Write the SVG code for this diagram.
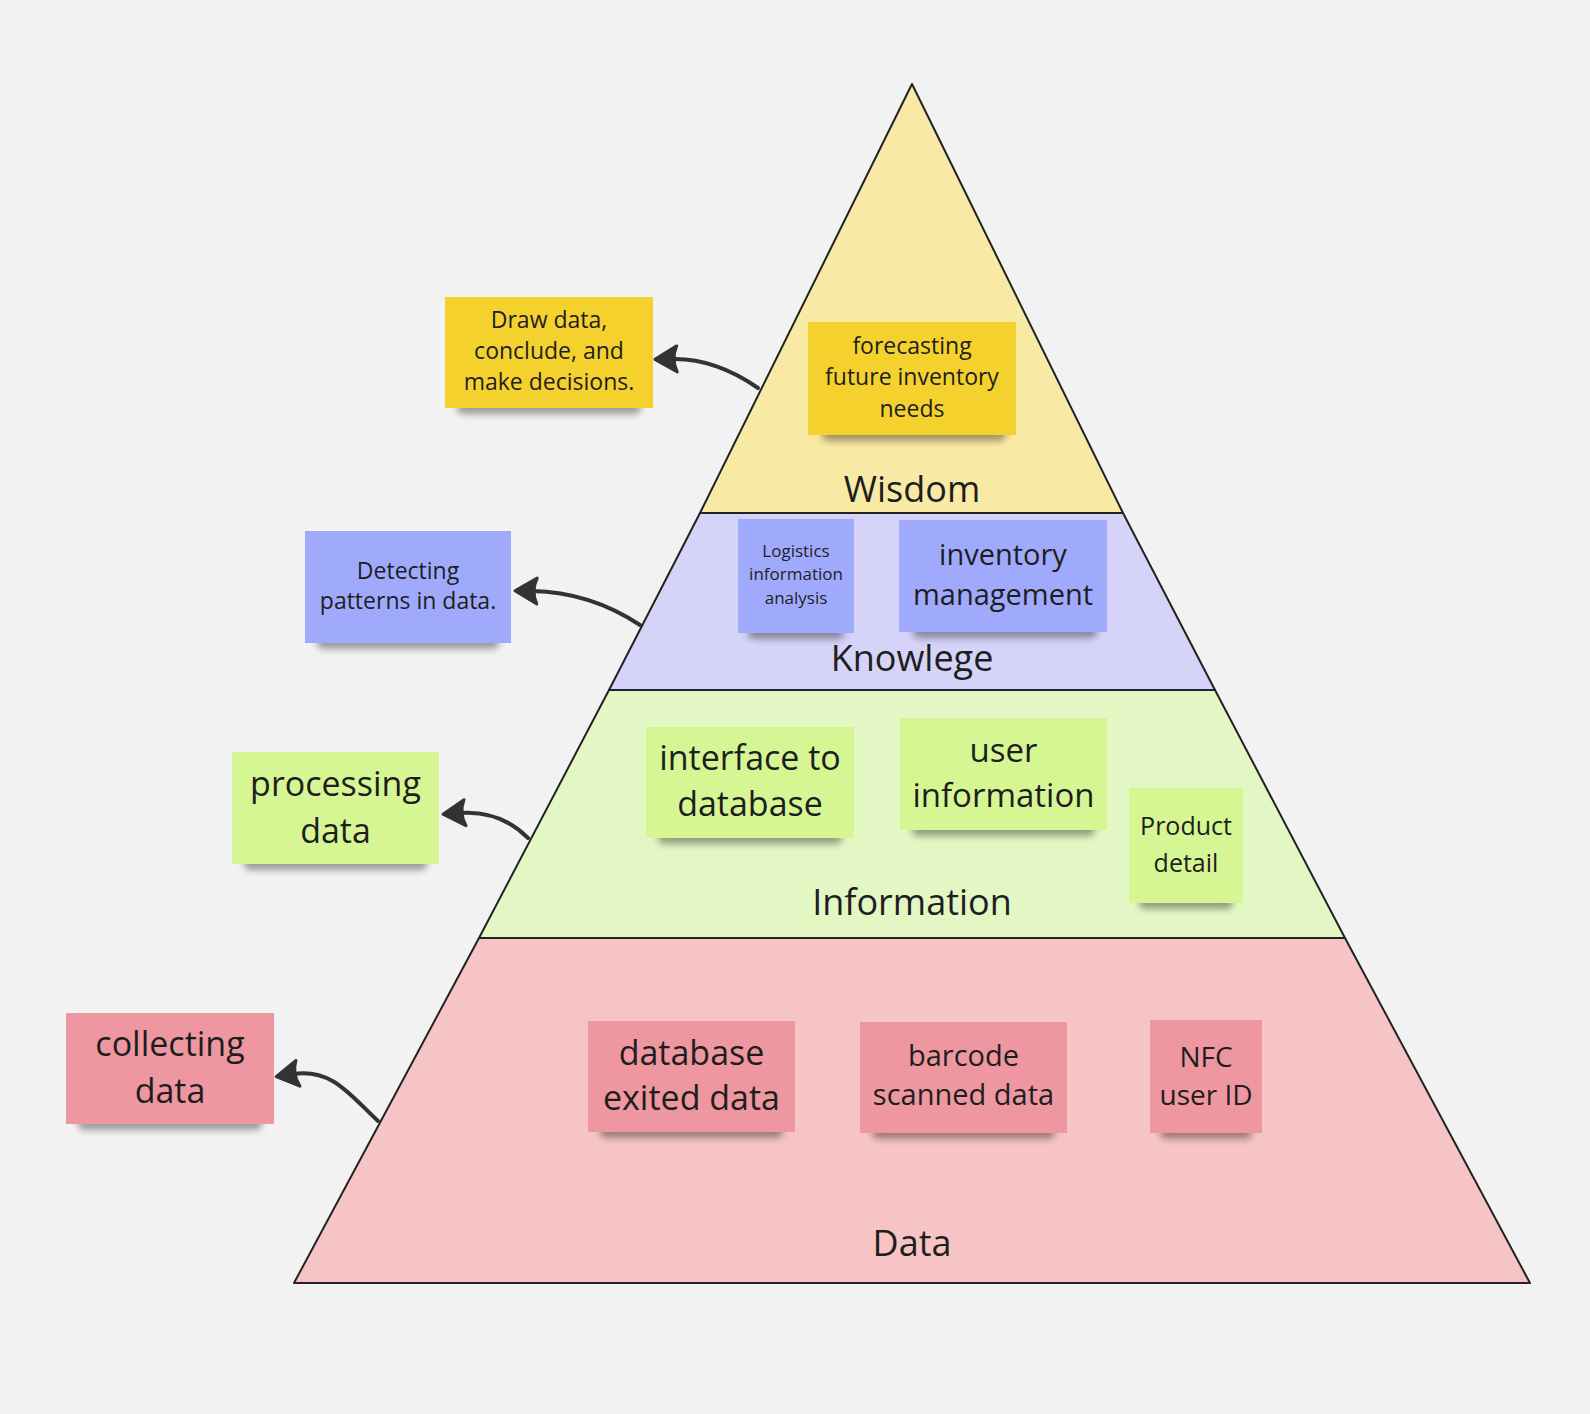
<svg xmlns="http://www.w3.org/2000/svg" width="1590" height="1414" viewBox="0 0 1590 1414">
<style>
.layer{stroke:#222;stroke-width:2;stroke-linejoin:round}
.lbl{font-family:"Open Sans","Noto Sans",sans-serif;font-size:36px;fill:#1e1e1e;text-anchor:middle}
.t{font-family:"Open Sans","Noto Sans",sans-serif;fill:#1e1e1e;text-anchor:middle}
.sh{fill:#000;opacity:0.36;filter:url(#blur)}
.y{fill:#f5d12e}
.b{fill:#a0aafc}
.g{fill:#d6f693}
.p{fill:#ef97a0}
.conn{fill:none;stroke:#333;stroke-width:4;stroke-linecap:round;marker-end:url(#ah)}
</style>
<defs>
<filter id="blur" x="-20%" y="-100%" width="140%" height="300%"><feGaussianBlur stdDeviation="3.5"/></filter>
<marker id="ah" viewBox="-28 -18 32 36" refX="-17" refY="0" markerWidth="32" markerHeight="36" markerUnits="userSpaceOnUse" orient="auto">
<path d="M0,0 L-22,-13 Q-16,0 -22,13 Z" fill="#333" stroke="#333" stroke-width="3" stroke-linejoin="round"/>
</marker>
</defs>
<rect width="1590" height="1414" fill="#f2f2f2"/>

<g id="layer-data"><polygon class="layer" points="479,938 1345,938 1530,1283 294,1283" fill="#f6c4c4"/><text class="lbl" x="912" y="1256">Data</text></g>
<g id="layer-information"><polygon class="layer" points="609,690 1215,690 1345,938 479,938" fill="#e2f7c4"/><text class="lbl" x="912" y="915">Information</text></g>
<g id="layer-knowledge"><polygon class="layer" points="700,513 1123,513 1215,690 609,690" fill="#d5d3f7"/><text class="lbl" x="912" y="671">Knowlege</text></g>
<g id="layer-wisdom"><polygon class="layer" points="912,84 1123,513 700,513" fill="#f8e9a5"/><text class="lbl" x="912" y="502">Wisdom</text></g>

<g id="connectors">
<path class="conn" d="M758,388 Q715,358 672,359"/>
<path class="conn" d="M640,625 Q590,592 532,591"/>
<path class="conn" d="M528,838 Q500,810 460,813"/>
<path class="conn" d="M378,1121 C350,1095 332,1068 293,1074"/>
</g>

<g id="note-draw-data">
<rect class="sh" x="457" y="400" width="184" height="14" rx="6"/>
<rect class="y" x="445" y="297" width="208" height="111"/>
<text class="t" font-size="23"><tspan x="549" y="327.5">Draw data,</tspan><tspan x="549" y="359">conclude, and</tspan><tspan x="549" y="390">make decisions.</tspan></text>
</g>
<g id="note-forecasting">
<rect class="sh" x="822" y="427" width="184" height="14" rx="6"/>
<rect class="y" x="808" y="322" width="208" height="113"/>
<text class="t" font-size="23"><tspan x="912" y="354">forecasting</tspan><tspan x="912" y="385">future inventory</tspan><tspan x="912" y="417">needs</tspan></text>
</g>
<g id="note-detecting">
<rect class="sh" x="317" y="635" width="182" height="14" rx="6"/>
<rect class="b" x="305" y="531" width="206" height="112"/>
<text class="t" font-size="23"><tspan x="408" y="579">Detecting</tspan><tspan x="408" y="609">patterns in data.</tspan></text>
</g>
<g id="note-logistics">
<rect class="sh" x="748" y="625" width="96" height="14" rx="6"/>
<rect class="b" x="738" y="519" width="116" height="114"/>
<text class="t" font-size="17"><tspan x="796" y="556.6">Logistics</tspan><tspan x="796" y="580">information</tspan><tspan x="796" y="604">analysis</tspan></text>
</g>
<g id="note-inventory">
<rect class="sh" x="913" y="624" width="184" height="14" rx="6"/>
<rect class="b" x="899" y="520" width="208" height="112"/>
<text class="t" font-size="29"><tspan x="1003" y="565">inventory</tspan><tspan x="1003" y="604.5">management</tspan></text>
</g>
<g id="note-processing">
<rect class="sh" x="244" y="856" width="183" height="14" rx="6"/>
<rect class="g" x="232" y="752" width="207" height="112"/>
<text class="t" font-size="34"><tspan x="335.5" y="796">processing</tspan><tspan x="335.5" y="842.7">data</tspan></text>
</g>
<g id="note-interface">
<rect class="sh" x="658" y="830" width="184" height="14" rx="6"/>
<rect class="g" x="646" y="727" width="208" height="111"/>
<text class="t" font-size="34"><tspan x="750" y="769.7">interface to</tspan><tspan x="750" y="816">database</tspan></text>
</g>
<g id="note-user-info">
<rect class="sh" x="912" y="822" width="183" height="14" rx="6"/>
<rect class="g" x="900" y="718" width="207" height="112"/>
<text class="t" font-size="33"><tspan x="1003.5" y="762">user</tspan><tspan x="1003.5" y="807">information</tspan></text>
</g>
<g id="note-product">
<rect class="sh" x="1139" y="895" width="94" height="14" rx="6"/>
<rect class="g" x="1129" y="788" width="114" height="115"/>
<text class="t" font-size="25"><tspan x="1186" y="835">Product</tspan><tspan x="1186" y="872">detail</tspan></text>
</g>
<g id="note-collecting">
<rect class="sh" x="78" y="1116" width="184" height="14" rx="6"/>
<rect class="p" x="66" y="1013" width="208" height="111"/>
<text class="t" font-size="34"><tspan x="170" y="1056">collecting</tspan><tspan x="170" y="1103">data</tspan></text>
</g>
<g id="note-database">
<rect class="sh" x="600" y="1124" width="183" height="14" rx="6"/>
<rect class="p" x="588" y="1021" width="207" height="111"/>
<text class="t" font-size="34"><tspan x="691.5" y="1064.7">database</tspan><tspan x="691.5" y="1110">exited data</tspan></text>
</g>
<g id="note-barcode">
<rect class="sh" x="872" y="1125" width="183" height="14" rx="6"/>
<rect class="p" x="860" y="1022" width="207" height="111"/>
<text class="t" font-size="29"><tspan x="963.5" y="1066">barcode</tspan><tspan x="963.5" y="1105.4">scanned data</tspan></text>
</g>
<g id="note-nfc">
<rect class="sh" x="1160" y="1125" width="92" height="14" rx="6"/>
<rect class="p" x="1150" y="1020" width="112" height="113"/>
<text class="t" font-size="28"><tspan x="1206" y="1066.6">NFC</tspan><tspan x="1206" y="1105">user ID</tspan></text>
</g>
</svg>
